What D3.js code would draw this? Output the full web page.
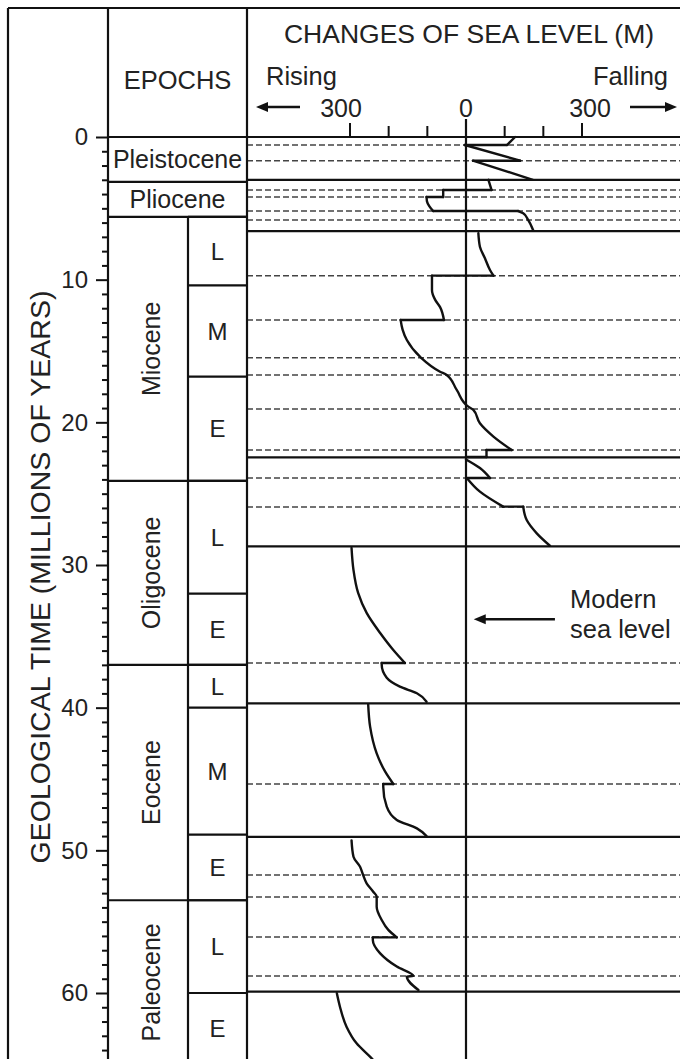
<!DOCTYPE html>
<html>
<head>
<meta charset="utf-8">
<script src="https://cdn.jsdelivr.net/npm/d3@7"></script>
<style>
  body { margin: 0; background: #fff; }
  text { font-family: "Liberation Sans", Arial, sans-serif; fill: #222; }
</style>
</head>
<body>
<div id="graf"></div>
<script>
// ages in millions of years, levels in metres (positive = above modern level, drawn to the left)
const epochNames   = ["Pleistocene", "Pliocene", "Miocene", "Oligocene", "Eocene", "Paleocene"];
const epochTops    = [0, 3.15, 5.6, 24.1, 37.0, 53.5];
const epochBottoms = [3.15, 5.6, 24.1, 37.0, 53.5, 65];

const subNames   = ["L", "M", "E", "L", "E", "L", "M", "E", "L", "E"];
const subTops    = [5.6, 10.4, 16.8, 24.1, 32.0, 37.0, 40.0, 48.9, 53.5, 60.0];
const subBottoms = [10.4, 16.8, 24.1, 32.0, 37.0, 40.0, 48.9, 53.5, 60.0, 65];

const solidLines  = [3.0, 6.6, 22.45, 28.7, 39.7, 49.05, 59.9];
const dashedLines = [0.56, 1.66, 3.71, 4.21, 5.19, 5.82, 9.72, 12.83, 15.47, 16.68,
                     19.06, 21.94, 23.9, 25.93, 36.87, 45.35, 51.73, 53.27, 56.08, 58.81];

const ageTicks    = [0, 10, 20, 30, 40, 50, 60];
const levelTicks  = [300, 200, 100, 0, -100, -200, -300];
const levelLabels = [300, 0, -300];

// sea level curve, one array per sequence block [age, level]
const seqA = [[0, -127], [0.56, -106], [0.56, 3], [1.66, -140], [1.66, -18], [3.0, -173]];
const seqB = [[3.0, -58], [3.71, -66], [3.71, 59], [4.21, 59], [4.21, 102], [4.5, 101],
              [4.85, 95], [5.19, 85], [5.19, -135], [5.35, -148], [5.82, -161], [6.55, -174]];
const seqC = [[6.75, -32], [7.69, -36], [8.5, -49], [9.32, -62], [9.72, -71], [9.72, 88],
              [10.72, 88], [11.4, 80], [11.92, 67], [12.83, 57], [12.83, 169], [13.5, 164],
              [14.23, 153], [15.4, 119], [16.45, 67], [16.68, 50], [17.73, 24], [18.9, -6],
              [19.13, -19], [20.07, -36], [21.0, -71], [21.94, -118], [21.94, -53],
              [22.43, -53], [22.43, 0]];
const seqD = [[22.6, 0], [23.2, -36], [23.9, -62], [23.9, -2], [24.86, -36], [25.91, -96],
              [25.91, -148], [26.85, -157], [27.78, -183], [28.65, -217]];
const seqE = [[28.81, 296], [30.35, 291], [31.96, 279], [33.36, 257], [34.77, 222],
              [35.96, 188], [36.87, 158], [36.87, 218], [37.0, 218], [37.91, 205],
              [38.53, 171], [38.99, 127], [39.58, 102]];
const seqF = [[39.75, 253], [41.33, 248], [43.2, 231], [44.49, 209], [45.35, 188],
              [45.35, 214], [45.54, 214], [46.94, 205], [47.87, 179], [48.46, 127], [49.0, 102]];
const seqG = [[49.3, 296], [50.45, 291], [51.15, 274], [51.73, 266], [52.31, 257],
              [52.9, 240], [53.25, 231], [53.95, 231], [54.88, 218], [55.58, 201],
              [56.1, 179], [56.1, 241], [56.28, 241], [57.22, 222], [58.15, 179],
              [58.81, 136], [58.85, 153], [59.79, 123]];
const seqH = [[60.02, 334], [60.96, 326], [62.36, 309], [63.53, 283], [64.58, 244], [65.5, 215]];
const sequences = [seqA, seqB, seqC, seqD, seqE, seqF, seqG, seqH];

// tamaño y columnas
const W = 680, H = 1059;
const colLeft = 108, colSub = 188, colRight = 247, frameLeft = 8, frameTop = 8;

const y = d3.scaleLinear().domain([0, 60]).range([137, 993]);
const x = d3.scaleLinear().domain([300, -300]).range([350, 582]);

const svg = d3.select("#graf").append("svg")
  .attr("width", W).attr("height", H);

// dashed sequence lines
svg.append("g").selectAll("line").data(dashedLines).join("line")
  .attr("x1", colRight).attr("x2", W + 10)
  .attr("y1", d => y(d)).attr("y2", d => y(d))
  .attr("stroke", "#444").attr("stroke-width", 1.5).attr("stroke-dasharray", "6,3");

// solid sequence boundaries
svg.append("g").selectAll("line").data(solidLines).join("line")
  .attr("x1", colRight).attr("x2", W + 10)
  .attr("y1", d => y(d)).attr("y2", d => y(d))
  .attr("stroke", "#111").attr("stroke-width", 2.2);

// curva: tramos suaves entre saltos horizontales
const smooth = d3.line().x(d => x(d[1])).y(d => y(d[0])).curve(d3.curveMonotoneY);
const straight = d3.line().x(d => x(d[1])).y(d => y(d[0]));
const pieces = [], jumps = [];
sequences.forEach(seq => {
  let run = [seq[0]];
  for (let i = 1; i < seq.length; i++) {
    if (seq[i][0] === seq[i - 1][0]) {
      pieces.push(run);
      jumps.push([seq[i - 1], seq[i]]);
      run = [seq[i]];
    } else run.push(seq[i]);
  }
  pieces.push(run);
});
const gCurve = svg.append("g").attr("fill", "none").attr("stroke", "#111")
  .attr("stroke-width", 2.4).attr("stroke-linecap", "round").attr("stroke-linejoin", "round");
gCurve.selectAll(".piece").data(pieces.filter(p => p.length > 1)).join("path")
  .attr("class", "piece").attr("d", smooth);
gCurve.selectAll(".jump").data(jumps).join("path")
  .attr("class", "jump").attr("d", straight);

// frame
const frame = svg.append("g").attr("stroke", "#111").attr("stroke-width", 2.2);
frame.append("line").attr("x1", frameLeft).attr("x2", W + 10).attr("y1", frameTop).attr("y2", frameTop);
frame.append("line").attr("x1", frameLeft).attr("x2", frameLeft).attr("y1", frameTop).attr("y2", H + 10);
frame.append("line").attr("x1", colLeft).attr("x2", colLeft).attr("y1", frameTop).attr("y2", H + 10);
frame.append("line").attr("x1", colRight).attr("x2", colRight).attr("y1", frameTop).attr("y2", H + 10);
frame.append("line").attr("x1", colLeft).attr("x2", W + 10).attr("y1", y(0)).attr("y2", y(0));
frame.append("line").attr("x1", x(0)).attr("x2", x(0)).attr("y1", y(0) - 18).attr("y2", H + 10);
frame.append("line").attr("x1", colSub).attr("x2", colSub).attr("y1", y(epochTops[2])).attr("y2", H + 10);

// epoch boxes
frame.selectAll(".ep").data(epochTops.slice(1)).join("line")
  .attr("x1", colLeft).attr("x2", colRight)
  .attr("y1", d => y(d)).attr("y2", d => y(d));
frame.selectAll(".sub").data(subTops).join("line")
  .attr("x1", colSub).attr("x2", colRight)
  .attr("y1", d => y(d)).attr("y2", d => y(d));

// epoch labels
epochNames.forEach((name, i) => {
  const cy = (y(epochTops[i]) + y(epochBottoms[i])) / 2;
  if (i < 2) {
    svg.append("text").attr("x", (colLeft + colRight) / 2).attr("y", cy)
      .attr("text-anchor", "middle").attr("dominant-baseline", "central")
      .attr("font-size", 25).text(name);
  } else {
    svg.append("text").attr("transform", `translate(${(colLeft + colSub) / 2 + 3},${cy}) rotate(-90)`)
      .attr("text-anchor", "middle").attr("dominant-baseline", "central")
      .attr("font-size", 25).text(name);
  }
});
subNames.forEach((name, i) => {
  svg.append("text").attr("x", (colSub + colRight) / 2).attr("y", (y(subTops[i]) + y(subBottoms[i])) / 2)
    .attr("text-anchor", "middle").attr("dominant-baseline", "central")
    .attr("font-size", 24).text(name);
});

// eje de edades (left)
const yMinor = d3.range(1, 66).filter(d => d % 10 !== 0);
const axisMinor = d3.axisLeft(y).tickValues(yMinor).tickSize(6).tickFormat("");
const axisMajor = d3.axisLeft(y).tickValues(ageTicks).tickSize(12).tickPadding(8).tickSizeOuter(0);
const gMinor = svg.append("g").attr("transform", `translate(${colLeft},0)`).call(axisMinor);
const gMajor = svg.append("g").attr("transform", `translate(${colLeft},0)`).call(axisMajor);
[gMinor, gMajor].forEach(g => {
  g.select(".domain").remove();
  g.selectAll("line").attr("stroke", "#111").attr("stroke-width", 2);
});
gMajor.selectAll("text").attr("font-size", 24).attr("font-family", "Liberation Sans, Arial, sans-serif").attr("fill", "#222");

svg.append("text")
  .attr("transform", `translate(40,577) rotate(-90)`)
  .attr("text-anchor", "middle").attr("dominant-baseline", "central")
  .attr("font-size", 28.5).text("GEOLOGICAL TIME (MILLIONS OF YEARS)");

// sea level axis (top)
svg.append("g").selectAll("line").data(levelTicks).join("line")
  .attr("x1", d => x(d)).attr("x2", d => x(d))
  .attr("y1", d => y(0) - (d === 0 ? 18 : Math.abs(d) === 300 ? 14 : 11)).attr("y2", y(0))
  .attr("stroke", "#111").attr("stroke-width", 2);
svg.append("g").selectAll("text").data(levelLabels).join("text")
  .attr("x", d => x(d) + (d > 0 ? -9 : d < 0 ? 8 : 0)).attr("y", 117)
  .attr("text-anchor", "middle").attr("font-size", 25)
  .text(d => Math.abs(d));

// encabezados
svg.append("text").attr("x", 469).attr("y", 43).attr("text-anchor", "middle")
  .attr("font-size", 26.5).text("CHANGES OF SEA LEVEL (M)");
svg.append("text").attr("x", 266).attr("y", 85).attr("font-size", 25.5).text("Rising");
svg.append("text").attr("x", 668).attr("y", 85).attr("text-anchor", "end").attr("font-size", 25.5).text("Falling");
svg.append("text").attr("x", (colLeft + colRight) / 2).attr("y", 89).attr("text-anchor", "middle")
  .attr("font-size", 25.5).text("EPOCHS");

// flechas
const arrow = (x1, x2, yy) => {
  const dir = x2 > x1 ? 1 : -1;
  svg.append("line").attr("x1", x1).attr("x2", x2 - dir * 8).attr("y1", yy).attr("y2", yy)
    .attr("stroke", "#111").attr("stroke-width", 2.4);
  svg.append("path")
    .attr("d", `M${x2},${yy} L${x2 - dir * 12},${yy - 5} L${x2 - dir * 12},${yy + 5} Z`)
    .attr("fill", "#111");
};
arrow(300, 256, 107);
arrow(630, 677, 107);
arrow(x(-230), x(-20), y(33.8));

svg.append("text").attr("x", x(-269)).attr("y", 608).attr("font-size", 25.5).text("Modern");
svg.append("text").attr("x", x(-269)).attr("y", 638).attr("font-size", 25.5).text("sea level");
</script>
</body>
</html>
